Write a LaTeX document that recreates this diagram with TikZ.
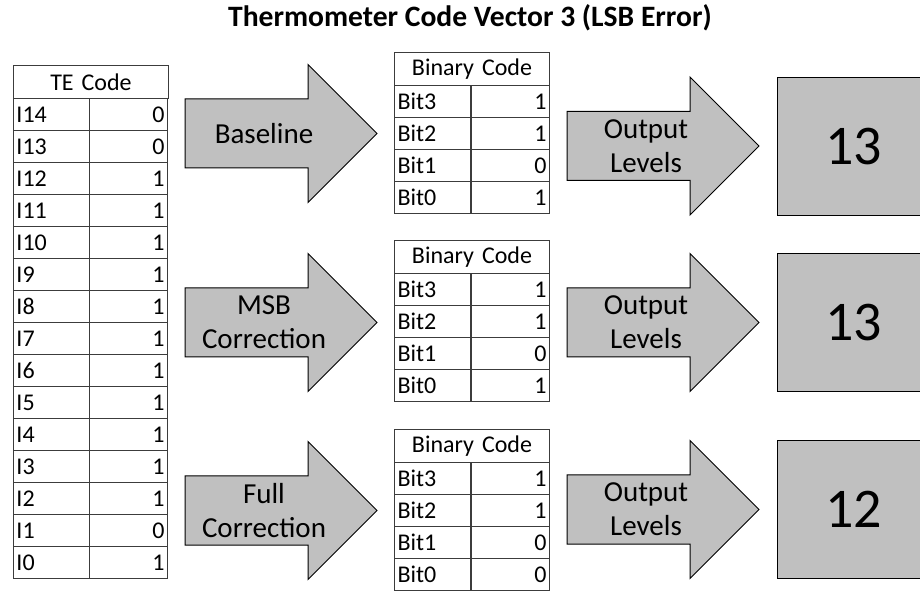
\documentclass[tikz,border=0pt]{standalone}
\usepackage{fontspec}
\setmainfont{Carlito}
\usetikzlibrary{positioning}
\definecolor{shade}{RGB}{192,192,192}
\definecolor{grid}{RGB}{60,60,60}
\tikzset{
  cell/.style={draw=grid,line width=0.5pt,minimum height=16pt,inner xsep=1.5pt,inner ysep=0pt,
    text width=35pt,font=\fontsize{12}{14}\selectfont,anchor=north west},
  name cell/.style={cell,align=left},
  val cell/.style={cell,text width=36pt,align=right},
  head cell/.style={cell,text width=74.5pt,align=center,minimum height=16.5pt},
  level box/.style={draw=black,fill=shade,line width=0.5pt,minimum width=76pt,minimum height=69pt,
    font=\fontsize{28}{32}\selectfont,anchor=north west},
  % big block arrow with its label
  pics/fatarrow/.style={code={
    \draw[fill=shade,line width=0.5pt] (0,-34.5) -- (123,-34.5) -- (123,-69) -- (192,0)
      -- (123,69) -- (123,34.5) -- (0,34.5) -- cycle;
    \node[font=\fontsize{14.5}{17}\selectfont,align=center] (-txt) at (79,0) {#1};
  }},
  % four-bit binary table
  pics/bintable/.style n args={4}{code={
    \node[head cell] (-head) at (0,0) {Binary Code};
    \foreach \b/\v [count=\i from 0] in {3/#1,2/#2,1/#3,0/#4} {
      \node[name cell] (-n\b) at (0,33+32*\i) {Bit\b};
      \node[val cell] (-v\b) at (77,33+32*\i) {\v};
    }
  }},
}
\begin{document}
\begin{tikzpicture}[x=0.5pt,y=-0.5pt]
  \useasboundingbox (0,0) rectangle (920,592);
  \clip (0,0) rectangle (920,592);
  \node[font=\bfseries\fontsize{14.8}{17}\selectfont] (title) at (470,18) {Thermometer Code Vector 3 (LSB Error)};

  % thermometer code input
  \node[head cell] (te-head) at (13,65.5) {TE Code};
  \foreach \v [count=\i from 0] in {0,0,1,1,1,1,1,1,1,1,1,1,1,0,1} {
    \pgfmathtruncatemacro\n{14-\i}
    \node[name cell] (te-n\n) at (13,98+32*\i) {I\n};
    \node[val cell] (te-v\n) at (89,98+32*\i) {\v};
  }

  % decoders
  \pic (base) at (185,133.5) {fatarrow={Baseline}};
  \pic (msb) at (185,322.5) {fatarrow={MSB\\Correction}};
  \pic (full) at (185,510.5) {fatarrow={Full\\Correction}};

  \pic (bin-a) at (394,52) {bintable={1}{1}{0}{1}};
  \pic (bin-b) at (394,240) {bintable={1}{1}{0}{1}};
  \pic (bin-c) at (394,429) {bintable={1}{1}{0}{0}};

  \pic (out-a) at (567,146) {fatarrow={Output\\Levels}};
  \pic (out-b) at (567,322.5) {fatarrow={Output\\Levels}};
  \pic (out-c) at (567,509.5) {fatarrow={Output\\Levels}};

  \node[level box] (lvl-a) at (777,77) {13};
  \node[level box] (lvl-b) at (777,253.5) {13};
  \node[level box] (lvl-c) at (777,440) {12};
\end{tikzpicture}
\end{document}
